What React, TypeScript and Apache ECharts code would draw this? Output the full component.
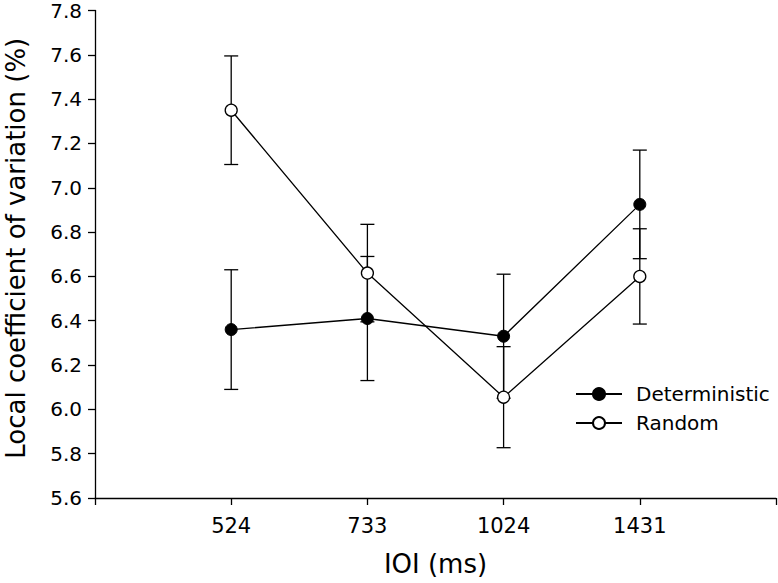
import React, { useEffect, useRef } from "react";
import * as echarts from "echarts";

const categories = ["524", "733", "1024", "1431"];
const deterministic = [6.36, 6.41, 6.33, 6.925];
const deterministicErr = [0.27, 0.28, 0.28, 0.245];
const random = [7.35, 6.615, 6.055, 6.6];
const randomErr = [0.245, 0.22, 0.228, 0.215];
const yMin = 5.6;
const yMax = 7.8;
const yStep = 0.2;

const FONT = "DejaVu Sans";
const INK = "#000";

export default function App() {
  const ref = useRef<HTMLDivElement>(null);

  useEffect(() => {
    if (!ref.current) return;
    const chart = echarts.init(ref.current, undefined, { renderer: "svg" });

    const pts = (vals: number[]) => vals.map((v, i) => [i + 1, v]);
    const bars = (vals: number[], errs: number[]) =>
      vals.map((v, i) => [i + 1, v - errs[i], v + errs[i]]);

    const errSeries = (name: string, vals: number[], errs: number[]) => ({
      type: "custom",
      name,
      silent: true,
      z: 1,
      data: bars(vals, errs),
      encode: { x: 0, y: [1, 2] },
      renderItem: (params: any, api: any) => {
        const x = api.value(0);
        const lo = api.coord([x, api.value(1)]);
        const hi = api.coord([x, api.value(2)]);
        const hw = 7;
        const style = { stroke: INK, lineWidth: 1.3 };
        return {
          type: "group",
          children: [
            { type: "line", shape: { x1: lo[0], y1: lo[1], x2: hi[0], y2: hi[1] }, style },
            { type: "line", shape: { x1: lo[0] - hw, y1: lo[1], x2: lo[0] + hw, y2: lo[1] }, style },
            { type: "line", shape: { x1: hi[0] - hw, y1: hi[1], x2: hi[0] + hw, y2: hi[1] }, style },
          ],
        };
      },
    });

    chart.setOption({
      animation: false,
      grid: { left: 95, right: 2, top: 10.5, bottom: 85, outerBoundsMode: "none" },
      legend: {
        orient: "vertical",
        left: 570,
        top: 379,
        itemWidth: 46,
        itemHeight: 15,
        itemGap: 9,
        data: ["Deterministic", "Random"],
        selectedMode: false,
        textStyle: { fontFamily: FONT, fontSize: 20, color: INK, padding: [0, 0, 0, 9] },
      },
      xAxis: {
        type: "value",
        min: 0,
        max: categories.length + 1,
        interval: 1,
        splitLine: { show: false },
        axisLine: { lineStyle: { color: INK, width: 1.3 } },
        axisTick: { length: 7, lineStyle: { color: INK, width: 1.3 } },
        axisLabel: {
          margin: 17,
          fontFamily: FONT,
          fontSize: 21,
          color: INK,
          formatter: (v: number) => categories[v - 1] ?? "",
        },
        name: "IOI (ms)",
        nameLocation: "middle",
        nameGap: 53,
        nameTextStyle: { fontFamily: FONT, fontSize: 26, color: INK },
      },
      yAxis: {
        type: "value",
        min: yMin,
        max: yMax,
        interval: yStep,
        splitLine: { show: false },
        axisLine: { show: true, lineStyle: { color: INK, width: 1.3 } },
        axisTick: { show: true, length: 7, lineStyle: { color: INK, width: 1.3 } },
        axisLabel: {
          margin: 13,
          fontFamily: FONT,
          fontSize: 20,
          color: INK,
          formatter: (v: number) => v.toFixed(1),
        },
        name: "Local coefficient of variation (%)",
        nameLocation: "middle",
        nameGap: 66,
        nameTextStyle: { fontFamily: FONT, fontSize: 26, color: INK, padding: [0, 0, 0, 12] },
      },
      series: [
        errSeries("errDet", deterministic, deterministicErr),
        errSeries("errRand", random, randomErr),
        {
          type: "line",
          name: "Deterministic",
          data: pts(deterministic),
          symbol: "circle",
          symbolSize: 12,
          z: 3,
          lineStyle: { color: INK, width: 1.3 },
          itemStyle: { color: INK, borderColor: INK, borderWidth: 1 },
          emphasis: { disabled: true },
        },
        {
          type: "line",
          name: "Random",
          data: pts(random),
          symbol: "circle",
          symbolSize: 12,
          z: 3,
          lineStyle: { color: INK, width: 1.3 },
          itemStyle: { color: "#fff", borderColor: INK, borderWidth: 1.3 },
          emphasis: { disabled: true },
        },
      ],
    });

    return () => chart.dispose();
  }, []);

  return (
    <div
      ref={ref}
      style={{ position: "fixed", left: 0, top: 0, width: 778, height: 583, background: "#fff" }}
    />
  );
}
